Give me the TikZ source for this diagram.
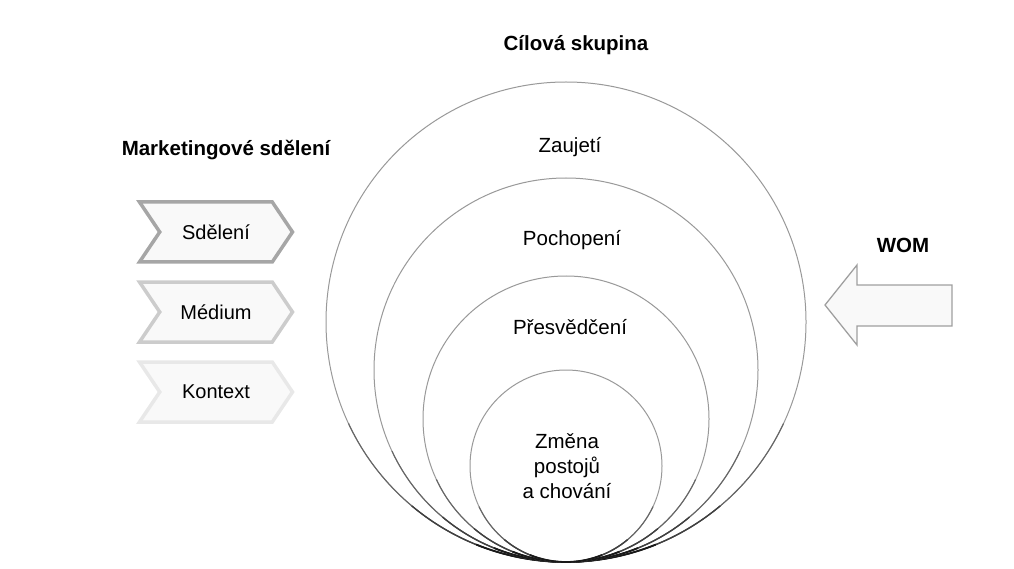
\documentclass[tikz,border=0pt]{standalone}
\usepackage{fontspec}
\setmainfont{Liberation Sans}
\usetikzlibrary{shapes.symbols}
\begin{document}
\begin{tikzpicture}[x=1pt,y=-1pt,
  chev/.style={signal,signal from=west,signal to=east,signal pointer angle=112,
    minimum width=153,minimum height=60,inner sep=0pt,line width=3.5pt,fill=gray!5,
    font=\fontsize{20}{24}\selectfont},
  lbl/.style={font=\fontsize{20.5}{25}\selectfont,align=center},
  ttl/.style={font=\fontsize{20.5}{24}\selectfont\bfseries}]
  \useasboundingbox (0,0) rectangle (1014,569);
  % nested circles, all touching at the bottom
  \foreach \r in {240,192,143,96}{
    \draw[gray!80,line width=1pt,fill=white] (566,562-\r) circle (\r);
    \draw[black!60,line width=1.1pt] (566,562-\r) ++(25:\r) arc (25:155:\r);
    \draw[black!75,line width=1.4pt] (566,562-\r) ++(50:\r) arc (50:130:\r);
    \draw[black!90,line width=1.8pt] (566,562-\r) ++(68:\r) arc (68:112:\r);
  }
  \node[ttl] (cilova) at (576,45) {Cílová skupina};
  \node[lbl] (zaujeti) at (570,147) {Zaujetí};
  \node[lbl] (pochopeni) at (572,240) {Pochopení};
  \node[lbl] (presvedceni) at (570,327) {Přesvědčení};
  \node[lbl] (zmena) at (567,466) {Změna\\postojů\\a chování};
  % marketing message
  \node[ttl] (mkt) at (226,150) {Marketingové sdělení};
  \node[chev,draw=gray!70] (sdeleni) at (216,232) {Sdělení};
  \node[chev,draw=gray!40] (medium) at (216,312) {Médium};
  \node[chev,draw=gray!18] (kontext) at (216,392) {Kontext};
  % WOM
  \node[ttl] (wom) at (903,245) {WOM};
  \draw[gray!75,fill=gray!5,line width=1.3pt] (825,305) -- (857,265) -- (857,285) -- (952,285)
    -- (952,326) -- (857,326) -- (857,345) -- cycle;
\end{tikzpicture}
\end{document}
